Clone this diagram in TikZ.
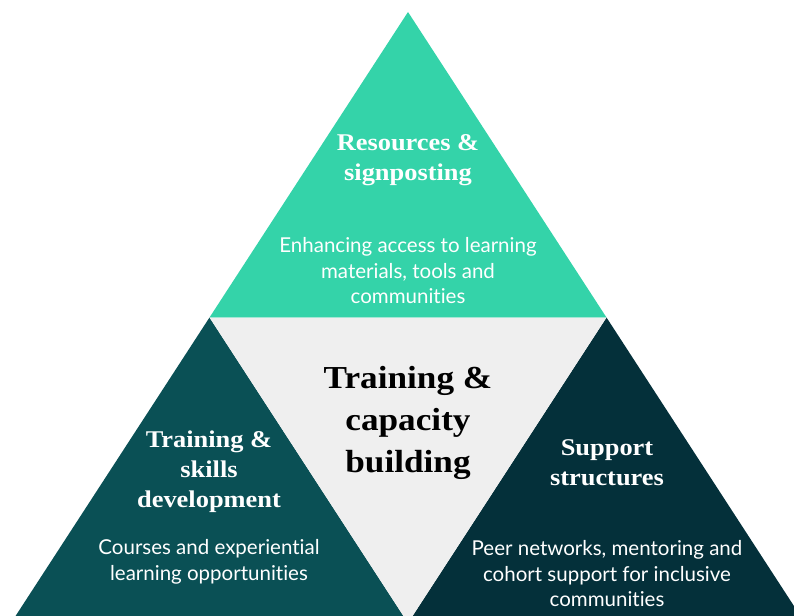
\documentclass[tikz,border=0pt]{standalone}
\usepackage{fontspec}
\setmainfont{Lato}[Ligatures=NoCommon]
\newfontfamily\headfont{Liberation Serif}[FakeStretch=1.1]
\usetikzlibrary{positioning}

\definecolor{mint}{HTML}{34D3A9}
\definecolor{teal}{HTML}{0A5055}
\definecolor{deepteal}{HTML}{04303A}
\definecolor{lightgrey}{HTML}{EFEFEF}

\tikzset{
  head/.style={font=\headfont\bfseries\fontsize{24}{30}\selectfont,
    text=white, align=center, inner sep=0pt},
  body/.style={font=\fontsize{20.5}{25.5}\selectfont,
    text=white, align=center, inner sep=0pt},
  core/.style={font=\headfont\bfseries\fontsize{32}{42}\selectfont,
    text=black, align=center, inner sep=0pt}
}

\begin{document}
\begin{tikzpicture}[x=1pt,y=-1pt]
\useasboundingbox (0,0) rectangle (794,615);
\clip (0,0) rectangle (794,615);

% corners of the pyramid
\coordinate (apex) at (408,12);
\coordinate (midl) at (209.5,317.5);
\coordinate (midr) at (606.5,317.5);
\coordinate (botl) at (11,623);
\coordinate (botm) at (408,623);
\coordinate (botr) at (805,623);

% the four triangles
\fill[mint] (apex) -- (midl) -- (midr) -- cycle;
\fill[teal] (midl) -- (botl) -- (botm) -- cycle;
\fill[deepteal] (midr) -- (botm) -- (botr) -- cycle;
\fill[lightgrey] (midl) -- (midr) -- (botm) -- cycle;

% top
\node[head] (reshead) at (408,160) {Resources \&\\signposting};
\node[body] (resbody) at (408,271) {Enhancing access to learning\\materials, tools and\\communities};

% centre
\node[core] (centre) at (408,423) {Training \&\\capacity\\building};

% left
\node[head] (skillhead) at (209,472) {Training \&\\skills\\development};
\node[body] (skillbody) at (209,562) {Courses and experiential\\learning opportunities};

% right
\node[head] (suphead) at (607,463) {Support\\structures};
\node[body] (supbody) at (607,574) {Peer networks, mentoring and\\cohort support for inclusive\\communities};
\end{tikzpicture}
\end{document}
